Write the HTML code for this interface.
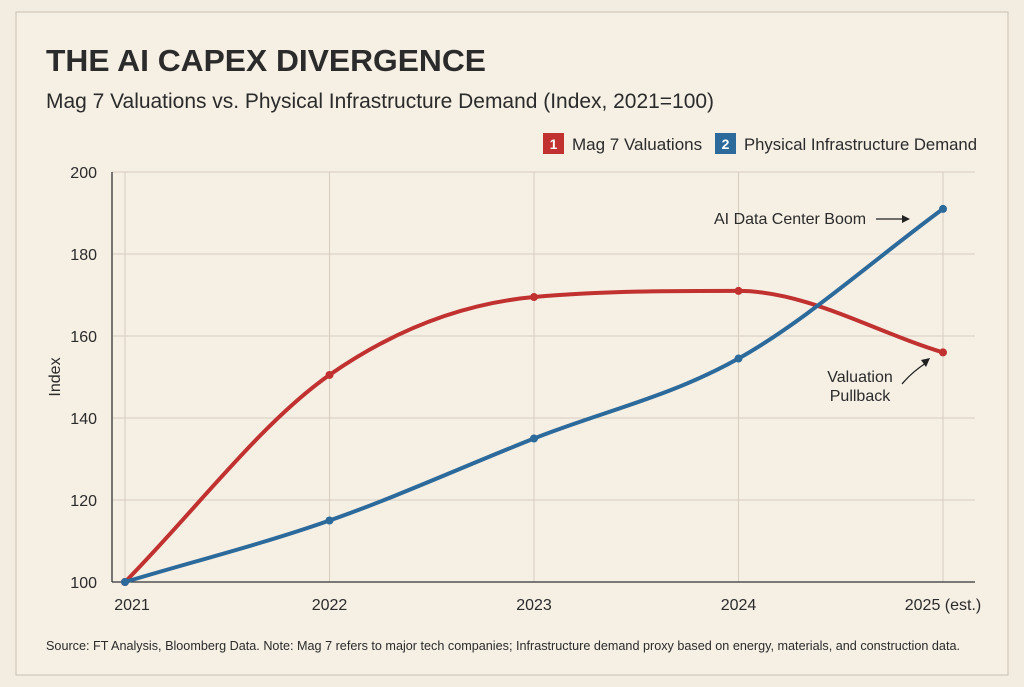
<!DOCTYPE html>
<html><head><meta charset="utf-8"><style>
body{margin:0;width:1024px;height:687px;background:#f3ece0;overflow:hidden;font-family:"Liberation Sans",sans-serif;}
</style></head><body>
<svg width="1024" height="687" style="position:absolute;left:0;top:0">
<rect x="16" y="12" width="992" height="663" fill="#f5efe4" stroke="#c9c0b2" stroke-width="1"/>
<text x="46" y="71" font-size="31" font-weight="bold" fill="#2b2b2b" textLength="440" lengthAdjust="spacingAndGlyphs">THE AI CAPEX DIVERGENCE</text>
<text x="46" y="108" font-size="21" fill="#2b2b2b" textLength="668" lengthAdjust="spacingAndGlyphs">Mag 7 Valuations vs. Physical Infrastructure Demand (Index, 2021=100)</text>
<g>
<rect x="543" y="133" width="21" height="21" fill="#c0312f"/>
<text x="553.5" y="149" font-size="14" fill="#fff" text-anchor="middle" font-weight="bold">1</text>
<text x="572" y="150" font-size="17" fill="#2b2b2b">Mag 7 Valuations</text>
<rect x="715" y="133" width="21" height="21" fill="#2c6a9c"/>
<text x="725.5" y="149" font-size="14" fill="#fff" text-anchor="middle" font-weight="bold">2</text>
<text x="744" y="150" font-size="17" fill="#2b2b2b" textLength="233" lengthAdjust="spacingAndGlyphs">Physical Infrastructure Demand</text>
</g>
<g id="grid"></g>
<g id="axes"></g>
<g id="series"></g>
<text transform="translate(60,377) rotate(-90)" font-size="16" fill="#2b2b2b" text-anchor="middle">Index</text>
<g>
<text x="714" y="224" font-size="16" fill="#2b2b2b">AI Data Center Boom</text>
<line x1="876" y1="219" x2="908" y2="219" stroke="#222" stroke-width="1.3"/>
<path d="M902,215 L910,219 L902,223 Z" fill="#222"/>
</g>
<g>
<text x="860" y="382" font-size="16" fill="#2b2b2b" text-anchor="middle">Valuation</text>
<text x="860" y="401" font-size="16" fill="#2b2b2b" text-anchor="middle">Pullback</text>
<path d="M902,384 Q912,372 926,363" fill="none" stroke="#222" stroke-width="1.3"/>
<path d="M930,358 L926,367 L921,360 Z" fill="#222"/>
</g>
<text x="46" y="650" font-size="13" fill="#2b2b2b" textLength="914" lengthAdjust="spacingAndGlyphs">Source: FT Analysis, Bloomberg Data. Note: Mag 7 refers to major tech companies; Infrastructure demand proxy based on energy, materials, and construction data.</text>
</svg>
<script>
const categories=["2021","2022","2023","2024","2025 (est.)"];
const mag7=[100,150.5,169.5,171,156];
const infra=[100,115,135,154.5,191];
const yTicks=[100,120,140,160,180,200];
const NS="http://www.w3.org/2000/svg";
const x=i=>125+i*204.5;
const y=v=>582-(v-100)*4.1;
function mk(t,a,p){const e=document.createElementNS(NS,t);for(const k in a)e.setAttribute(k,a[k]);p.appendChild(e);return e;}
const g=document.getElementById('grid'),ax=document.getElementById('axes'),s=document.getElementById('series');
yTicks.forEach(v=>{
 const l=mk('line',{x1:112,x2:975,y1:y(v),y2:y(v),stroke:'#d6cdbf','stroke-width':1},g);
 
 
 const t=mk('text',{x:97,y:y(v)+6,'font-size':16,fill:'#2b2b2b','text-anchor':'end'},ax);
 t.textContent=v;
 
 
});
categories.forEach((c,i)=>{
 const l=mk('line',{x1:x(i),x2:x(i),y1:y(200),y2:y(100),stroke:'#d6cdbf','stroke-width':1},g);
 
 
 const t=mk('text',{x:i==0?x(i)+7:x(i),y:610,'font-size':16,fill:'#2b2b2b','text-anchor':'middle'},ax);
 t.textContent=c;
 
 
});
const ya=mk('line',{x1:112,x2:112,y1:y(200),y2:y(100),stroke:'#333','stroke-width':1.3},ax);


const xa=mk('line',{x1:112,x2:975,y1:y(100),y2:y(100),stroke:'#333','stroke-width':1.3},ax);


function path(vals){
 const p=vals.map((v,i)=>[x(i),y(v)]);const n=p.length;
 const d=[],m=[];
 for(let i=0;i<n-1;i++)d.push((p[i+1][1]-p[i][1])/(p[i+1][0]-p[i][0]));
 m[0]=d[0];m[n-1]=d[n-2];
 for(let i=1;i<n-1;i++)m[i]=(d[i-1]*d[i]<=0)?0:(d[i-1]+d[i])/2;
 for(let i=0;i<n-1;i++){if(d[i]===0){m[i]=m[i+1]=0;continue;}
  const a=m[i]/d[i],b=m[i+1]/d[i],h=a*a+b*b;if(h>9){const t=3/Math.sqrt(h);m[i]=t*a*d[i];m[i+1]=t*b*d[i];}}
 let s='M'+p[0];
 for(let i=0;i<n-1;i++){const h=(p[i+1][0]-p[i][0])/3;
  s+=' C'+[p[i][0]+h,p[i][1]+m[i]*h]+' '+[p[i+1][0]-h,p[i+1][1]-m[i+1]*h]+' '+p[i+1];}
 return s;}
[[mag7,'#c0312f','mag7'],[infra,'#2c6a9c','infra']].forEach(([vals,col,n])=>{
 const l=mk('path',{d:path(vals),fill:'none',stroke:col,'stroke-width':4,'stroke-linecap':'round'},s);
 
 
 vals.forEach((v,i)=>{const c=mk('circle',{cx:x(i),cy:y(v),r:4,fill:col},s);
  
  });
});
</script>
</body></html>
